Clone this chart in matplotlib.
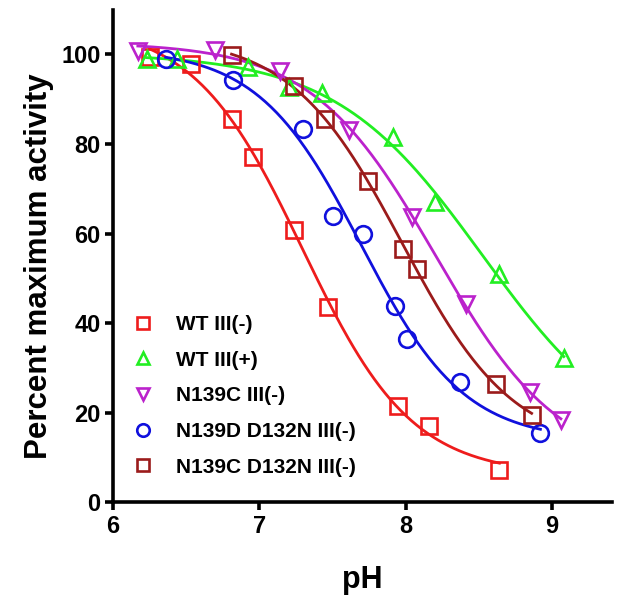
import numpy as np
import matplotlib

matplotlib.use("Agg")
import matplotlib.pyplot as plt

plt.rcParams["font.family"] = ["Liberation Sans", "DejaVu Sans"]
plt.rcParams["font.weight"] = "bold"

# values
wt_minus_ph = [6.25, 6.53, 6.81, 6.96, 7.24, 7.47, 7.95, 8.16, 8.64]
wt_minus_act = [99.5, 97.8, 85.6, 77.1, 60.8, 43.5, 21.5, 17.0, 7.2]

wt_plus_ph = [6.23, 6.44, 6.92, 7.20, 7.43, 7.91, 8.20, 8.64, 9.08]
wt_plus_act = [99.1, 99.0, 97.3, 92.7, 91.3, 81.6, 67.0, 50.9, 32.3]

n139c_ph = [6.17, 6.70, 7.14, 7.61, 8.04, 8.41, 8.85, 9.06]
n139c_act = [100.7, 100.9, 96.4, 83.2, 63.7, 44.2, 24.7, 18.4]

n139d_d132n_ph = [6.36, 6.82, 7.30, 7.50, 7.71, 7.93, 8.01, 8.37, 8.92]
n139d_d132n_act = [99.1, 94.2, 83.4, 63.9, 59.9, 43.9, 36.5, 26.9, 15.5]

n139c_d132n_ph = [6.81, 7.24, 7.45, 7.74, 7.98, 8.08, 8.62, 8.86]
n139c_d132n_act = [99.8, 93.0, 85.6, 71.8, 56.5, 52.2, 26.5, 19.5]

labels = ["WT III(-)", "WT III(+)", "N139C III(-)", "N139D D132N III(-)", "N139C D132N III(-)"]
colors = ["#ee1c1c", "#22ee22", "#bb22cc", "#1010dd", "#9b1b1b"]
markers = ["s", "^", "v", "o", "s"]


def fit_sigmoid(x, y):
    # grid search over pKa and slope, top and bottom solved by least squares
    x = np.asarray(x)
    y = np.asarray(y)
    pka = np.arange(6.0, 10.5, 0.005)
    hill = np.arange(0.3, 3.0, 0.01)
    P, H = np.meshgrid(pka, hill)
    P = P.ravel()[:, None]
    H = H.ravel()[:, None]
    f = 1.0 / (1.0 + 10 ** ((x[None, :] - P) * H))
    g = 1.0 - f
    a11 = (g * g).sum(1)
    a12 = (g * f).sum(1)
    a22 = (f * f).sum(1)
    b1 = (g * y).sum(1)
    b2 = (f * y).sum(1)
    det = a11 * a22 - a12 * a12
    bottom = (b1 * a22 - b2 * a12) / det
    top = (a11 * b2 - a12 * b1) / det
    pred = bottom[:, None] * g + top[:, None] * f
    err = ((pred - y[None, :]) ** 2).sum(1)
    i = np.nanargmin(err)
    return bottom[i], top[i], P[i, 0], H[i, 0]


def sigmoid(x, bottom, top, pka, h):
    return bottom + (top - bottom) / (1.0 + 10 ** ((x - pka) * h))


def main():
    fig = plt.figure(figsize=(6.24, 6.08), dpi=100)
    ax = fig.add_axes([0.181, 0.174, 0.8, 0.81])

    series = [
        (wt_minus_ph, wt_minus_act),
        (wt_plus_ph, wt_plus_act),
        (n139c_ph, n139c_act),
        (n139d_d132n_ph, n139d_d132n_act),
        (n139c_d132n_ph, n139c_d132n_act),
    ]

    for k in range(len(series)):
        x, y = series[k]
        params = fit_sigmoid(x, y)
        xs = np.linspace(min(x), max(x), 200)
        ax.plot(xs, sigmoid(xs, *params), color=colors[k], linewidth=2.0, zorder=2)
        ax.plot(x, y, linestyle="none", marker=markers[k], markersize=12,
                markerfacecolor="none", markeredgecolor=colors[k],
                markeredgewidth=1.9, label=labels[k], zorder=3)

    ax.set_xlim(6, 9.41)
    ax.set_ylim(0, 110)
    ax.set_xticks([6, 7, 8, 9])
    ax.set_yticks([0, 20, 40, 60, 80, 100])
    for side in ["top", "right"]:
        ax.spines[side].set_visible(False)
    for side in ["left", "bottom"]:
        ax.spines[side].set_linewidth(2.6)
    ax.tick_params(width=2.6, length=6, labelsize=17, pad=3)

    ax.set_xlabel("pH", fontsize=22, fontweight="bold", labelpad=20)
    ax.set_ylabel("Percent maximum activity", fontsize=22.5, fontweight="bold")
    ax.yaxis.set_label_coords(-0.118, 0.48)

    ax.legend(loc="upper left", bbox_to_anchor=(-0.02, 0.418), frameon=False,
              fontsize=15, markerscale=0.75, handletextpad=0.6,
              labelspacing=0.8, borderaxespad=0.5)

    fig.savefig("out.png", dpi=100)


if __name__ == "__main__":
    main()
